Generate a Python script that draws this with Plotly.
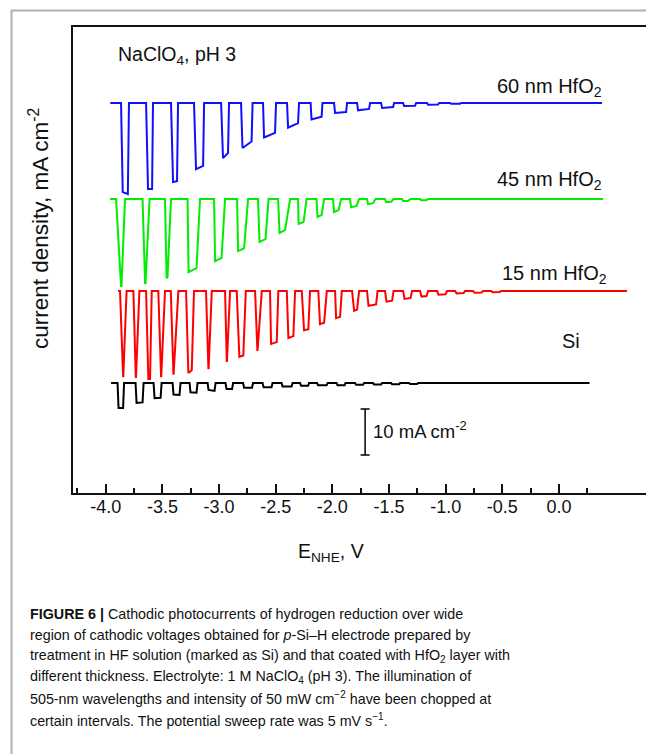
import plotly.graph_objects as go

# ---------------- data (E vs NHE in V, current density in mA cm^-2) ----------------
hfo2_60_E = [-3.960,
    -3.865, -3.850, -3.805, -3.795,
    -3.644, -3.627, -3.591, -3.583,
    -3.424, -3.406, -3.371, -3.362,
    -3.221, -3.203, -3.141, -3.132,
    -2.982, -2.965, -2.921, -2.912,
    -2.806, -2.793, -2.713, -2.704,
    -2.612, -2.603, -2.506, -2.497,
    -2.400, -2.391, -2.303, -2.294,
    -2.192, -2.184, -2.095, -2.087,
    -1.985, -1.976, -1.879, -1.870,
    -1.782, -1.773, -1.676, -1.667,
    -1.570, -1.561, -1.464, -1.455,
    -1.376, -1.367, -1.270, -1.261,
    -1.164, -1.155, -1.067, -1.058,
    -0.961, -0.952, -0.873, -0.864,
    0.380]
hfo2_60_j = [0.0,
    0, -19.4, -19.8, 0,
    0, -18.7, -18.7, 0,
    0, -17.2, -17.0, 0,
    0, -14.4, -13.7, 0,
    0, -12.0, -10.9, 0,
    0, -9.8, -8.4, 0,
    0, -7.5, -6.5, 0,
    0, -5.4, -4.4, 0,
    0, -3.6, -3.0, 0,
    0, -2.2, -2.0, 0,
    0, -1.6, -1.3, 0,
    0, -1.1, -0.9, 0,
    0, -0.65, -0.6, 0,
    0, -0.4, -0.35, 0,
    0, -0.2, -0.2, 0,
    0.0]

hfo2_45_E = [-3.962,
    -3.909, -3.865, -3.861, -3.830,
    -3.675, -3.653, -3.649, -3.613,
    -3.477, -3.463, -3.455, -3.424,
    -3.278, -3.269, -3.199, -3.168,
    -3.044, -3.035, -2.978, -2.947,
    -2.841, -2.832, -2.779, -2.744,
    -2.656, -2.643, -2.590, -2.563,
    -2.479, -2.466, -2.417, -2.373,
    -2.303, -2.298, -2.254, -2.228,
    -2.140, -2.131, -2.095, -2.073,
    -1.994, -1.985, -1.945, -1.923,
    -1.844, -1.835, -1.786, -1.764,
    -1.694, -1.685, -1.641, -1.619,
    -1.535, -1.526, -1.482, -1.460,
    -1.385, -1.376, -1.332, -1.310,
    -1.226, -1.217, -1.173, -1.155,
    0.390]
hfo2_45_j = [0.0,
    0, -18.9, -18.9, 0,
    0, -18.3, -18.3, 0,
    0, -17.2, -17.0, 0,
    0, -15.9, -15.0, 0,
    0, -13.5, -12.8, 0,
    0, -11.3, -10.7, 0,
    0, -9.3, -8.7, 0,
    0, -7.4, -6.7, 0,
    0, -5.4, -5.0, 0,
    0, -3.9, -3.5, 0,
    0, -2.8, -2.4, 0,
    0, -1.8, -1.5, 0,
    0, -1.1, -0.9, 0,
    0, -0.7, -0.6, 0,
    0, -0.4, -0.4, 0,
    0, -0.25, -0.25, 0,
    0.0]

hfo2_15_E = [-3.891,
    -3.874, -3.847, -3.845, -3.816,
    -3.756, -3.735, -3.733, -3.703,
    -3.644, -3.624, -3.609, -3.594,
    -3.536, -3.512, -3.510, -3.477,
    -3.426, -3.403, -3.401, -3.359,
    -3.291, -3.271, -3.241, -3.221,
    -3.115, -3.094, -3.092, -3.064,
    -2.947, -2.932, -2.930, -2.903,
    -2.844, -2.821, -2.786, -2.764,
    -2.682, -2.662, -2.660, -2.623,
    -2.550, -2.541, -2.491, -2.477,
    -2.402, -2.388, -2.344, -2.329,
    -2.270, -2.250, -2.212, -2.197,
    -2.124, -2.109, -2.073, -2.049,
    -1.976, -1.967, -1.932, -1.917,
    -1.826, -1.808, -1.782, -1.764,
    -1.694, -1.681, -1.614, -1.601,
    -1.535, -1.522, -1.473, -1.460,
    -1.376, -1.363, -1.310, -1.297,
    -1.226, -1.213, -1.169, -1.155,
    -1.076, -1.063, -1.001, -0.988,
    -0.917, -0.904, -0.842, -0.829,
    -0.758, -0.745, -0.683, -0.670,
    -0.599, -0.586, -0.524, -0.511,
    -0.440, -0.427, -0.374, -0.361,
    0.600]
hfo2_15_j = [0.0,
    0, -18.5, -18.5, 0,
    0, -18.7, -18.7, 0,
    0, -19.1, -19.1, 0,
    0, -18.5, -18.5, 0,
    0, -18.0, -18.0, 0,
    0, -17.8, -17.2, 0,
    0, -16.8, -16.8, 0,
    0, -15.2, -15.2, 0,
    0, -14.3, -14.0, 0,
    0, -12.8, -12.8, 0,
    0, -11.5, -11.1, 0,
    0, -10.2, -9.8, 0,
    0, -8.5, -8.3, 0,
    0, -7.2, -6.9, 0,
    0, -5.9, -5.6, 0,
    0, -4.3, -4.0, 0,
    0, -3.2, -2.9, 0,
    0, -2.3, -2.1, 0,
    0, -1.7, -1.5, 0,
    0, -1.2, -1.1, 0,
    0, -0.8, -0.7, 0,
    0, -0.5, -0.45, 0,
    0, -0.35, -0.3, 0,
    0, -0.25, -0.2, 0,
    0, -0.15, -0.15, 0,
    0.0]

si_E = [-3.953,
    -3.896, -3.887, -3.847, -3.838,
    -3.737, -3.728, -3.675, -3.666,
    -3.578, -3.569, -3.516, -3.507,
    -3.410, -3.402, -3.349, -3.340,
    -3.260, -3.252, -3.199, -3.190,
    -3.101, -3.093, -3.040, -3.031,
    -2.943, -2.934, -2.885, -2.876,
    -2.788, -2.779, -2.709, -2.700,
    -2.616, -2.607, -2.537, -2.528,
    -2.448, -2.440, -2.360, -2.351,
    -2.285, -2.276, -2.214, -2.206,
    -2.135, -2.126, -2.051, -2.042,
    -1.963, -1.954, -1.892, -1.884,
    -1.800, -1.791, -1.729, -1.720,
    -1.641, -1.632, -1.570, -1.561,
    -1.482, -1.473, -1.411, -1.402,
    -1.323, -1.314, -1.252, -1.243,
    0.270]
si_j = [0.0,
    0, -5.4, -5.4, 0,
    0, -4.3, -4.2, 0,
    0, -3.3, -3.2, 0,
    0, -2.5, -2.6, 0,
    0, -2.0, -2.1, 0,
    0, -1.5, -1.7, 0,
    0, -1.3, -1.3, 0,
    0, -1.0, -1.0, 0,
    0, -0.9, -0.9, 0,
    0, -0.75, -0.75, 0,
    0, -0.6, -0.6, 0,
    0, -0.5, -0.5, 0,
    0, -0.45, -0.45, 0,
    0, -0.35, -0.35, 0,
    0, -0.3, -0.3, 0,
    0, -0.25, -0.25, 0,
    0, -0.2, -0.2, 0,
    0.0]

series_names = ["60 nm HfO<sub>2</sub>", "45 nm HfO<sub>2</sub>", "15 nm HfO<sub>2</sub>", "Si"]
series_E = [hfo2_60_E, hfo2_45_E, hfo2_15_E, si_E]
series_j = [hfo2_60_j, hfo2_45_j, hfo2_15_j, si_j]
series_offsets = [84.8, 63.9, 43.9, 23.9]   # vertical display offsets (mA cm^-2)
series_colors = ["#1010ff", "#00ee00", "#ff0000", "#000000"]

x_tick_vals = [-4.0, -3.5, -3.0, -2.5, -2.0, -1.5, -1.0, -0.5, 0.0]
x_tick_labels = ["-4.0", "-3.5", "-3.0", "-2.5", "-2.0", "-1.5", "-1.0", "-0.5", "0.0"]
x_minor_vals = [-4.25, -3.75, -3.25, -2.75, -2.25, -1.75, -1.25, -0.75, -0.25, 0.25]

scale_bar_value = 10.0   # mA cm^-2
scale_bar_E = -1.711
scale_bar_base = 8.26

# ---------------- figure ----------------
W, H = 646, 754
ML, MR, MT, MB = 73, 0, 27, 261
PW, PH = W - ML - MR, H - MT - MB


def px(x):
    return (x - ML) / PW


def py(y):
    return (H - MB - y) / PH


FONT = "Liberation Sans, Arial, Helvetica, sans-serif"

fig = go.Figure()
for name, E, j, off, col in zip(series_names, series_E, series_j, series_offsets, series_colors):
    fig.add_trace(go.Scatter(
        x=E, y=[v + off for v in j], mode="lines", name=name,
        line=dict(color=col, width=2), showlegend=False, hoverinfo="skip"))

# scale bar
cap = 0.04
sb_top = scale_bar_base + scale_bar_value
fig.add_trace(go.Scatter(
    x=[scale_bar_E - cap, scale_bar_E + cap, None, scale_bar_E, scale_bar_E, None,
       scale_bar_E - cap, scale_bar_E + cap],
    y=[sb_top, sb_top, None, sb_top, scale_bar_base, None, scale_bar_base, scale_bar_base],
    mode="lines", line=dict(color="#000", width=1.5), showlegend=False, hoverinfo="skip"))

ann = []


def add_text(text, x, y, size, xanchor="left", yanchor="middle", angle=0, family=FONT):
    ann.append(dict(text=text, x=px(x), y=py(y), xref="paper", yref="paper",
                    xanchor=xanchor, yanchor=yanchor, showarrow=False, textangle=angle,
                    font=dict(family=family, size=size, color="#111")))


add_text("NaClO<sub>4</sub>, pH 3", 116, 55, 19.5)
add_text(series_names[0], 604, 87, 20, xanchor="right")
add_text(series_names[1], 604, 180, 20, xanchor="right")
add_text(series_names[2], 609, 274, 20, xanchor="right")
add_text(series_names[3], 582, 341, 20, xanchor="right")
add_text("10 mA cm<sup>-2</sup>", 371, 430, 18.5)
add_text("E<sub>NHE</sub>, V", 331, 552, 19.5, xanchor="center")
add_text("current density, mA cm<sup>-2</sup>", 39, 229, 22.5, xanchor="center", angle=-90)

caption = [
    "<b>FIGURE 6 |</b> Cathodic photocurrents of hydrogen reduction over wide",
    "region of cathodic voltages obtained for <i>p</i>-Si–H electrode prepared by",
    "treatment in HF solution (marked as Si) and that coated with HfO<sub>2</sub> layer with",
    "different thickness. Electrolyte: 1 M NaClO<sub>4</sub> (pH 3). The illumination of",
    "505-nm wavelengths and intensity of 50 mW cm<sup>−2</sup> have been chopped at",
    "certain intervals. The potential sweep rate was 5 mV s<sup>−1</sup>.",
]
cap_y = [614, 635, 656, 677, 698, 720]
for line, yy in zip(caption, cap_y):
    add_text(line, 28, yy, 14.3)

shapes = [
    dict(type="line", xref="paper", yref="paper", x0=px(11.5), x1=px(11.5), y0=py(10), y1=py(H + 5),
         line=dict(color="#b0b0b0", width=2)),
    dict(type="line", xref="paper", yref="paper", x0=px(11.5), x1=px(W + 5), y0=py(10.5), y1=py(10.5),
         line=dict(color="#b0b0b0", width=2)),
]

fig.update_layout(
    width=W, height=H,
    margin=dict(l=ML, r=MR, t=MT, b=MB, pad=0),
    paper_bgcolor="white", plot_bgcolor="white",
    annotations=ann, shapes=shapes,
    xaxis=dict(range=[-4.289, 0.768], showgrid=False, zeroline=False,
               showline=True, linecolor="#111", linewidth=2, mirror=True,
               ticks="inside", ticklen=9, tickwidth=1.5, tickcolor="#111",
               tickmode="array", tickvals=x_tick_vals, ticktext=x_tick_labels,
               ticklabelstandoff=-4,
               tickfont=dict(family=FONT, size=18, color="#111"),
               minor=dict(tickmode="array", tickvals=x_minor_vals, ticks="inside",
                          ticklen=5, tickwidth=1.5, tickcolor="#111", showgrid=False)),
    yaxis=dict(range=[0, PH / 4.6], showgrid=False, zeroline=False,
               showline=True, linecolor="#111", linewidth=2, mirror=False,
               ticks="", showticklabels=False),
)

fig.write_html(
    "out.html",
    config={"displayModeBar": False},
    post_script="document.body.style.margin='0px';document.body.style.padding='0px';"
                "document.body.style.overflow='hidden';",
)
